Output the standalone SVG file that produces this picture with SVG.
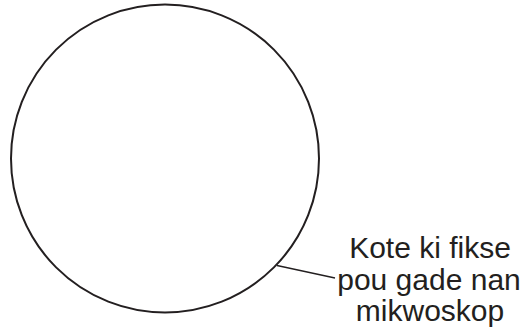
<svg xmlns="http://www.w3.org/2000/svg" width="524" height="329" viewBox="0 0 524 329">
<style>
.lbl{font-family:"Liberation Sans",Arial,sans-serif;font-size:30px;fill:#231f20;text-anchor:middle}
</style>
<rect width="524" height="329" fill="#fff"/>
<g id="circle"><circle cx="165" cy="158.5" r="154" fill="none" stroke="#231f20" stroke-width="2"/></g>
<g id="connectors"><line x1="277" y1="265.5" x2="335" y2="278" stroke="#231f20" stroke-width="1.3"/></g>
<g id="label">
<text class="lbl" x="430" y="258">Kote ki fikse</text>
<text class="lbl" x="429" y="290">pou gade nan</text>
<text class="lbl" x="430" y="321">mikwoskop</text>
</g>
</svg>
